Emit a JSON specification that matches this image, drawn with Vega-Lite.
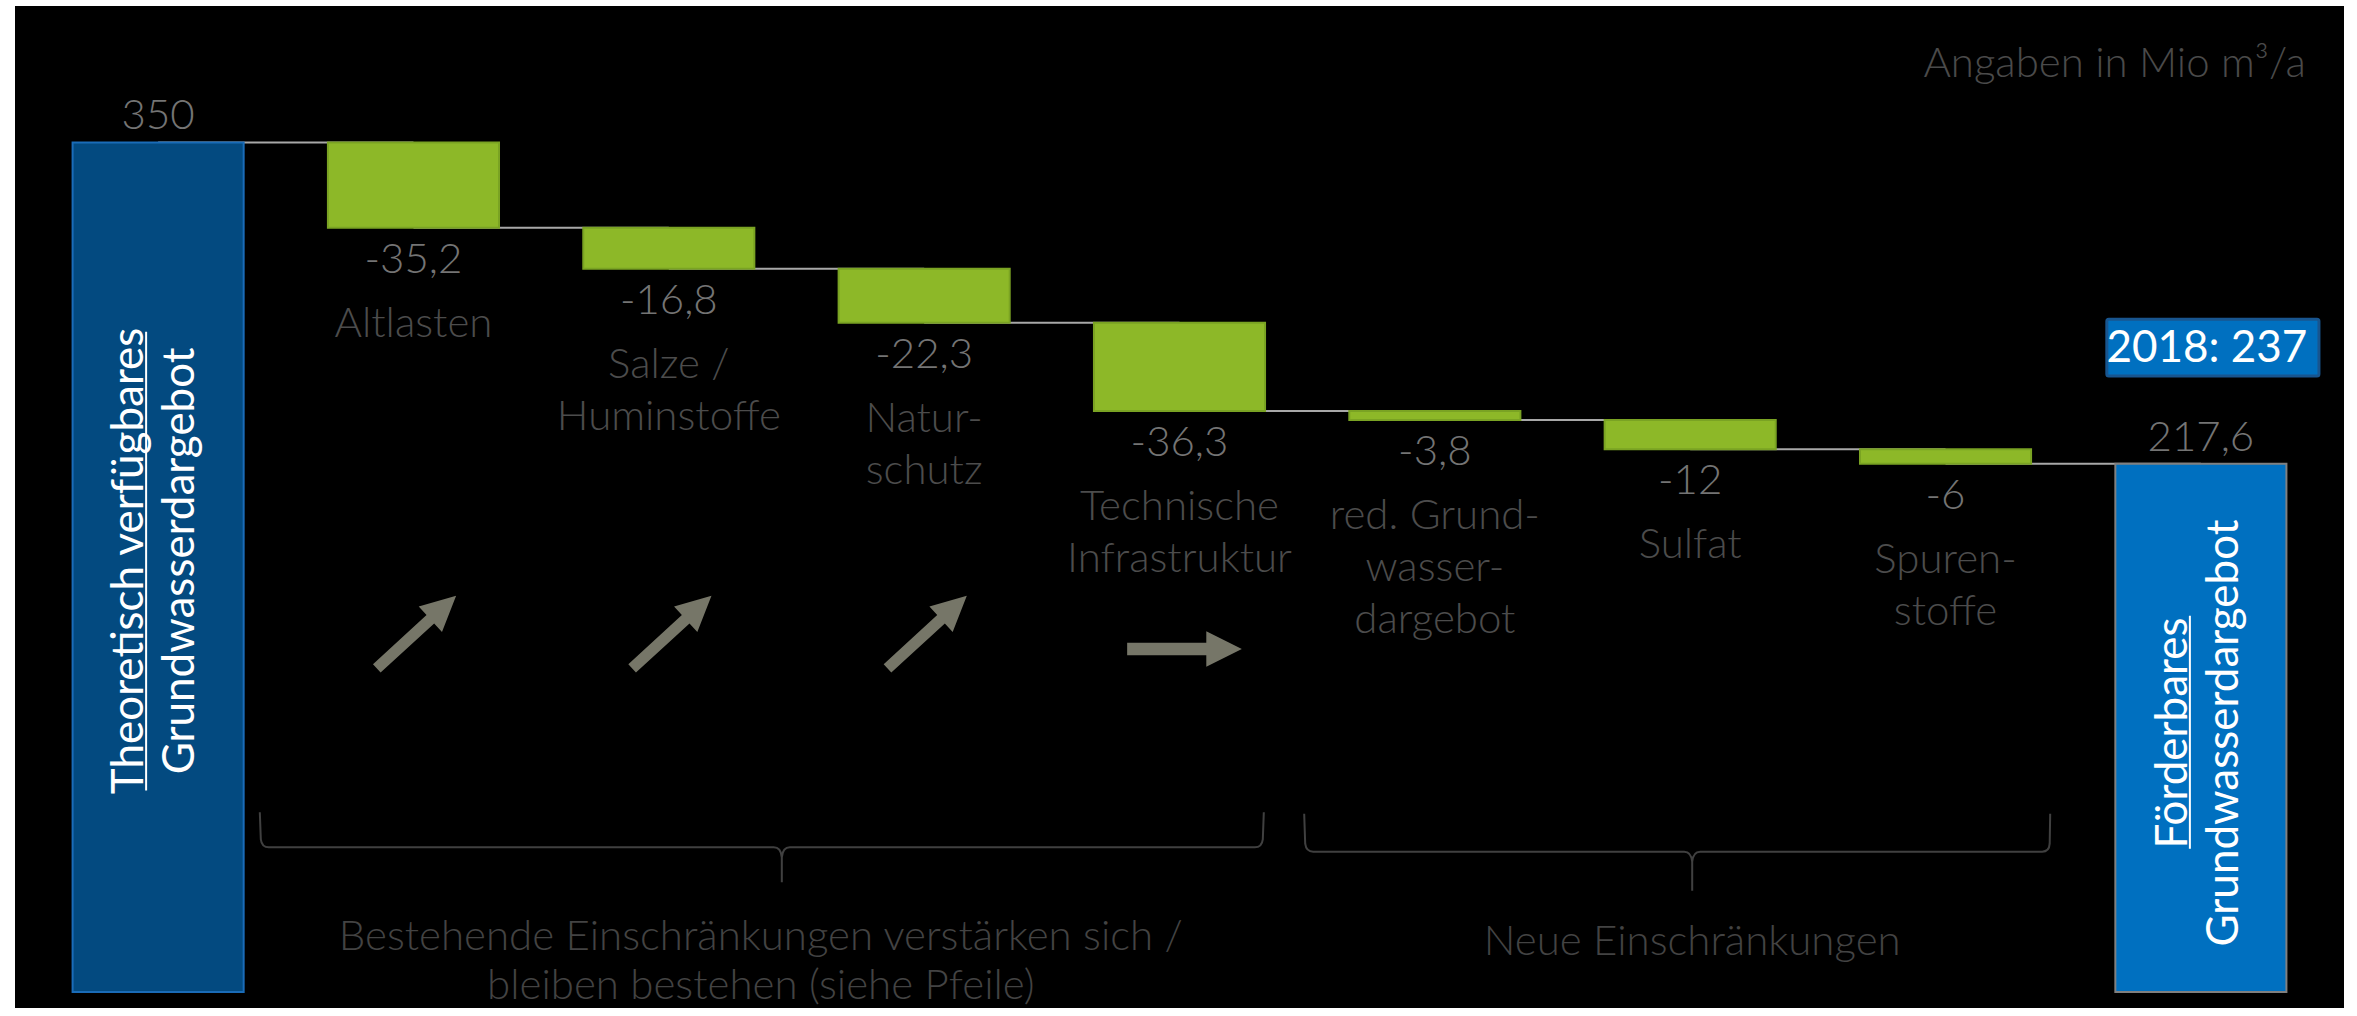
{
  "$schema": "https://vega.github.io/schema/vega-lite/v6.json",
  "width": 2329,
  "height": 1002,
  "autosize": {"type": "none"},
  "padding": {"left": 15, "top": 6, "right": 13, "bottom": 8},
  "background": "white",
  "config": {
    "view": {"fill": "black", "stroke": null},
    "font": "Lato",
    "locale": {"number": {"decimal": ",", "thousands": ".", "grouping": [3], "currency": ["", " €"], "minus": "-"}}
  },
  "datasets": {
    "schritte": [
      {"Kategorie": "Theoretisch", "typ": "Start", "start": 0, "ende": 350, "wert": 350, "next": "Altlasten", "titel": "Theoretisch verfügbares\nGrundwasserdargebot"},
      {"Kategorie": "Altlasten", "name": "Altlasten", "typ": "Abnahme", "start": 350, "ende": 314.8, "wert": -35.2, "next": "Salze", "trend": "verstaerkt"},
      {"Kategorie": "Salze", "name": "Salze /\nHuminstoffe", "typ": "Abnahme", "start": 314.8, "ende": 298, "wert": -16.8, "next": "Natur", "trend": "verstaerkt"},
      {"Kategorie": "Natur", "name": "Natur-\nschutz", "typ": "Abnahme", "start": 298, "ende": 275.7, "wert": -22.3, "next": "Technik", "trend": "verstaerkt"},
      {"Kategorie": "Technik", "name": "Technische\nInfrastruktur", "typ": "Abnahme", "start": 275.7, "ende": 239.4, "wert": -36.3, "next": "Grundwasser", "trend": "bleibt"},
      {"Kategorie": "Grundwasser", "name": "red. Grund-\nwasser-\ndargebot", "typ": "Abnahme", "start": 239.4, "ende": 235.6, "wert": -3.8, "next": "Sulfat"},
      {"Kategorie": "Sulfat", "name": "Sulfat", "typ": "Abnahme", "start": 235.6, "ende": 223.6, "wert": -12, "next": "Spuren"},
      {"Kategorie": "Spuren", "name": "Spuren-\nstoffe", "typ": "Abnahme", "start": 223.6, "ende": 217.6, "wert": -6, "next": "Foerderbar"},
      {"Kategorie": "Foerderbar", "typ": "Ende", "start": 0, "ende": 217.6, "wert": 217.6, "titel": "Förderbares\nGrundwasserdargebot"}
    ],
    "notizen": [
      {"id": "bestehend", "text": "Bestehende Einschränkungen verstärken sich /\nbleiben bestehen (siehe Pfeile)"},
      {"id": "neu", "text": "Neue Einschränkungen"},
      {"id": "einheit", "text": "Angaben in Mio m³/a"},
      {"id": "vergleich", "text": "2018: 237"}
    ]
  },
  "data": {"name": "schritte"},
  "encoding": {
    "x": {
      "field": "Kategorie",
      "type": "nominal",
      "sort": null,
      "scale": {
        "domain": ["Theoretisch", "Altlasten", "Salze", "Natur", "Technik", "Grundwasser", "Sulfat", "Spuren", "Foerderbar"],
        "paddingInner": 0.33,
        "paddingOuter": 0.2255
      },
      "axis": null
    }
  },
  "layer": [
    {
      "transform": [{"filter": "datum.next != null"}],
      "mark": {"type": "rule", "color": "#a8a8a8", "strokeWidth": 2},
      "encoding": {
        "x2": {"field": "next"},
        "y": {"field": "ende", "type": "quantitative", "axis": null}
      }
    },
    {
      "mark": {"type": "bar", "strokeWidth": 2},
      "encoding": {
        "y": {"field": "start", "type": "quantitative", "scale": {"domain": [-6.6, 406.2], "nice": false, "zero": false}, "axis": null},
        "y2": {"field": "ende"},
        "color": {"field": "typ", "type": "nominal", "scale": {"domain": ["Start", "Abnahme", "Ende"], "range": ["#034a80", "#8db828", "#0070c0"]}, "legend": null},
        "stroke": {"field": "typ", "type": "nominal", "scale": {"domain": ["Start", "Abnahme", "Ende"], "range": ["#1a6cb8", "#7aa323", "#808080"]}, "legend": null}
      }
    },
    {
      "transform": [{"filter": "datum.typ == 'Abnahme'"}],
      "mark": {"type": "text", "fontSize": 42, "fontWeight": 300, "color": "#747474", "baseline": "alphabetic", "dy": 45},
      "encoding": {
        "y": {"field": "ende", "type": "quantitative", "axis": null},
        "text": {"field": "wert", "type": "quantitative", "format": "~g"}
      }
    },
    {
      "transform": [{"filter": "datum.typ != 'Abnahme'"}],
      "mark": {"type": "text", "fontSize": 42, "fontWeight": 300, "color": "#747474", "baseline": "alphabetic", "dy": -13},
      "encoding": {
        "y": {"field": "ende", "type": "quantitative", "axis": null},
        "text": {"field": "wert", "type": "quantitative", "format": "~g"}
      }
    },
    {
      "transform": [{"filter": "datum.typ == 'Abnahme'"}],
      "mark": {"type": "text", "fontSize": 42, "fontWeight": 300, "color": "#4c4c4c", "baseline": "alphabetic", "dy": 109, "lineBreak": "\n", "lineHeight": 52},
      "encoding": {
        "y": {"field": "ende", "type": "quantitative", "axis": null},
        "text": {"field": "name", "type": "nominal"}
      }
    },
    {
      "transform": [{"filter": "datum.Kategorie == 'Theoretisch'"}],
      "mark": {"type": "text", "fontSize": 44, "color": "white", "angle": 270, "align": "center", "baseline": "middle", "lineBreak": "\n", "lineHeight": 51, "dy": -28},
      "encoding": {
        "y": {"datum": 177.6, "type": "quantitative", "axis": null},
        "text": {"field": "titel", "type": "nominal"}
      }
    },
    {
      "transform": [{"filter": "datum.Kategorie == 'Foerderbar'"}],
      "mark": {"type": "text", "fontSize": 44, "color": "white", "angle": 270, "align": "center", "baseline": "middle", "lineBreak": "\n", "lineHeight": 51, "dy": -27},
      "encoding": {
        "y": {"datum": 106.7, "type": "quantitative", "axis": null},
        "text": {"field": "titel", "type": "nominal"}
      }
    },
    {
      "transform": [{"filter": "datum.Kategorie == 'Theoretisch'"}],
      "mark": {"type": "rule", "color": "white", "strokeWidth": 2, "xOffset": -12},
      "encoding": {
        "y": {"datum": 272, "type": "quantitative", "axis": null},
        "y2": {"datum": 83}
      }
    },
    {
      "transform": [{"filter": "datum.Kategorie == 'Foerderbar'"}],
      "mark": {"type": "rule", "color": "white", "strokeWidth": 2, "xOffset": -11},
      "encoding": {
        "y": {"datum": 155, "type": "quantitative", "axis": null},
        "y2": {"datum": 59}
      }
    },
    {
      "transform": [{"filter": "datum.trend == 'verstaerkt'"}],
      "mark": {"type": "point", "shape": "M-1,-0.105 L0.35,-0.105 L0.35,-0.32 L1,0 L0.35,0.32 L0.35,0.105 L-1,0.105 Z", "size": 11578, "angle": 317.5, "filled": true, "color": "#767668", "opacity": 1, "strokeWidth": 0, "xOffset": 3},
      "encoding": {
        "y": {"datum": 148.3, "type": "quantitative", "axis": null}
      }
    },
    {
      "transform": [{"filter": "datum.trend == 'bleibt'"}],
      "mark": {"type": "point", "shape": "M-1,-0.11 L0.38,-0.11 L0.38,-0.31 L1,0 L0.38,0.31 L0.38,0.11 L-1,0.11 Z", "size": 13156, "angle": 0, "filled": true, "color": "#767668", "opacity": 1, "strokeWidth": 0, "xOffset": 5},
      "encoding": {
        "y": {"datum": 141.3, "type": "quantitative", "axis": null}
      }
    },
    {
      "data": {"values": [{"gruppe": "bestehende Einschränkungen"}]},
      "mark": {"type": "point", "shape": "M-409,-35 L-408,-8 Q-407,0 -400,0 L105,0 Q112,0 113,10 L113,35 M113,10 Q114,0 121,0 L586,0 Q593,0 594,-8 L595,-35", "size": 4, "filled": false, "stroke": "#404040", "strokeWidth": 2, "opacity": 1},
      "encoding": {
        "x": {"datum": "Salze", "type": "nominal", "axis": null},
        "y": {"datum": 59.6, "type": "quantitative", "axis": null}
      }
    },
    {
      "data": {"values": [{"gruppe": "neue Einschränkungen"}]},
      "mark": {"type": "point", "shape": "M-386,-38 L-385,-8 Q-384,0 -377,0 L-6,0 Q1,0 2,10 L2,39 M2,10 Q3,0 10,0 L352,0 Q359,0 359.5,-8 L360,-38", "size": 4, "filled": false, "stroke": "#404040", "strokeWidth": 2, "opacity": 1},
      "encoding": {
        "x": {"datum": "Sulfat", "type": "nominal", "axis": null},
        "y": {"datum": 57.8, "type": "quantitative", "axis": null}
      }
    },
    {
      "data": {"name": "notizen"},
      "transform": [{"filter": "datum.id == 'bestehend'"}],
      "mark": {"type": "text", "fontSize": 42, "fontWeight": 300, "color": "#434343", "baseline": "alphabetic", "align": "center", "lineBreak": "\n", "lineHeight": 49, "dx": 92},
      "encoding": {
        "x": {"datum": "Salze", "type": "nominal", "axis": null},
        "y": {"datum": 17.3, "type": "quantitative", "axis": null},
        "text": {"field": "text", "type": "nominal"}
      }
    },
    {
      "data": {"name": "notizen"},
      "transform": [{"filter": "datum.id == 'neu'"}],
      "mark": {"type": "text", "fontSize": 42, "fontWeight": 300, "color": "#434343", "baseline": "alphabetic", "align": "center", "dx": 2},
      "encoding": {
        "x": {"datum": "Sulfat", "type": "nominal", "axis": null},
        "y": {"datum": 15.2, "type": "quantitative", "axis": null},
        "text": {"field": "text", "type": "nominal"}
      }
    },
    {
      "data": {"name": "notizen"},
      "transform": [{"filter": "datum.id == 'einheit'"}],
      "mark": {"type": "text", "fontSize": 42, "fontWeight": 300, "color": "#4a4a4a", "baseline": "alphabetic", "align": "right", "dx": 105},
      "encoding": {
        "x": {"datum": "Foerderbar", "type": "nominal", "axis": null},
        "y": {"datum": 377, "type": "quantitative", "axis": null},
        "text": {"field": "text", "type": "nominal"}
      }
    },
    {
      "data": {"name": "notizen"},
      "transform": [{"filter": "datum.id == 'vergleich'"}],
      "mark": {"type": "bar", "width": {"band": 1.24}, "xOffset": 12, "color": "#0070c0", "stroke": "#18558f", "strokeWidth": 3, "cornerRadius": 2},
      "encoding": {
        "x": {"datum": "Foerderbar", "type": "nominal", "axis": null},
        "y": {"datum": 277.2, "type": "quantitative", "axis": null},
        "y2": {"datum": 253.8}
      }
    },
    {
      "data": {"name": "notizen"},
      "transform": [{"filter": "datum.id == 'vergleich'"}],
      "mark": {"type": "text", "fontSize": 44, "color": "white", "baseline": "alphabetic", "align": "center", "dx": 6},
      "encoding": {
        "x": {"datum": "Foerderbar", "type": "nominal", "axis": null},
        "y": {"datum": 259.7, "type": "quantitative", "axis": null},
        "text": {"field": "text", "type": "nominal"}
      }
    }
  ]
}
